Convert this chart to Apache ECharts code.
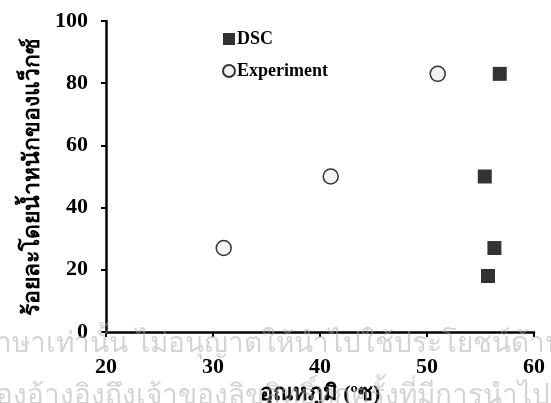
<!DOCTYPE html>
<html>
<head>
<meta charset="utf-8">
<script src="https://cdn.jsdelivr.net/npm/echarts@6/dist/echarts.min.js"></script>
<style>
    html, body { margin: 0; padding: 0; background: #fff; }
    #chart { width: 551px; height: 403px; }
</style>
</head>
<body>
<div id="chart"></div>
<script>
// ข้อมูลจากกราฟ
const dscX = [56.8, 55.4, 56.3, 55.7];
const dscY = [83, 50, 27, 18];
const expX = [31, 41, 51];
const expY = [27, 50, 83];
const xTicks = [20, 30, 40, 50, 60];
const yTicks = [0, 20, 40, 60, 80, 100];

const serif = '"Liberation Serif", "Times New Roman", serif';

let chart = echarts.init(document.getElementById('chart'));

let option = {
    animation: false,
    backgroundColor: '#fff',
    grid: {
        left: 106,
        right: 17,
        top: 21,
        bottom: 71,
        outerBoundsMode: 'none'
    },
    legend: {
        orient: 'vertical',
        left: 217,
        top: 25,
        itemWidth: 12,
        itemHeight: 12,
        itemGap: 14,
        textStyle: {
            fontFamily: serif,
            fontWeight: 'bold',
            fontSize: 18,
            color: '#000',
            padding: [0, 0, 0, -3]
        },
        data: [
            { name: 'DSC', icon: 'rect' },
            { name: 'Experiment', icon: 'circle' }
        ]
    },
    xAxis: {
        type: 'value',
        min: xTicks[0],
        max: xTicks[xTicks.length - 1],
        interval: 10,
        name: 'อุณหภูมิ (ºซ)',
        nameLocation: 'middle',
        nameGap: 42,
        nameTextStyle: {
            fontFamily: serif,
            fontWeight: 'bold',
            fontSize: 22,
            color: '#000'
        },
        axisLine: { lineStyle: { color: '#000', width: 2.5 } },
        axisTick: { show: true, length: 5, lineStyle: { color: '#000', width: 2 } },
        axisLabel: {
            fontFamily: serif,
            fontWeight: 'bold',
            fontSize: 22,
            color: '#000',
            margin: 24
        },
        splitLine: { show: false }
    },
    yAxis: {
        type: 'value',
        min: yTicks[0],
        max: yTicks[yTicks.length - 1],
        interval: 20,
        name: 'ร้อยละโดยน้ำหนักของแว็กซ์',
        nameLocation: 'middle',
        nameGap: 59,
        nameTextStyle: {
            fontFamily: serif,
            fontWeight: 'bold',
            fontSize: 23,
            color: '#000'
        },
        axisLine: { show: true, lineStyle: { color: '#000', width: 2.5 } },
        axisTick: { show: true, length: 5, lineStyle: { color: '#000', width: 2 } },
        axisLabel: {
            fontFamily: serif,
            fontWeight: 'bold',
            fontSize: 22,
            color: '#000',
            margin: 18
        },
        splitLine: { show: false }
    },
    series: [
        {
            name: 'DSC',
            type: 'scatter',
            symbol: 'rect',
            symbolSize: 14,
            itemStyle: { color: '#000' },
            data: dscX.map((x, i) => [x, dscY[i]])
        },
        {
            name: 'Experiment',
            type: 'scatter',
            symbol: 'circle',
            symbolSize: 15,
            itemStyle: { color: '#efefef', borderColor: '#000', borderWidth: 1.5 },
            data: expX.map((x, i) => [x, expY[i]])
        }
    ],
    // ลายน้ำด้านล่าง
    graphic: [
        {
            type: 'text',
            left: -22,
            top: 330,
            z: 100,
            style: {
                text: 'ภาษาเท่านั้น ไม่อนุญาตให้นำไปใช้ประโยชน์ด้านการ',
                font: '28px sans-serif',
                fill: 'rgba(170,170,170,0.5)'
            }
        },
        {
            type: 'text',
            left: -22,
            top: 382,
            z: 100,
            style: {
                text: 'ต้องอ้างอิงถึงเจ้าของลิขสิทธิ์ทุกครั้งที่มีการนำไปใช้',
                font: '28px sans-serif',
                fill: 'rgba(170,170,170,0.5)'
            }
        }
    ]
};

chart.setOption(option);
</script>
</body>
</html>
